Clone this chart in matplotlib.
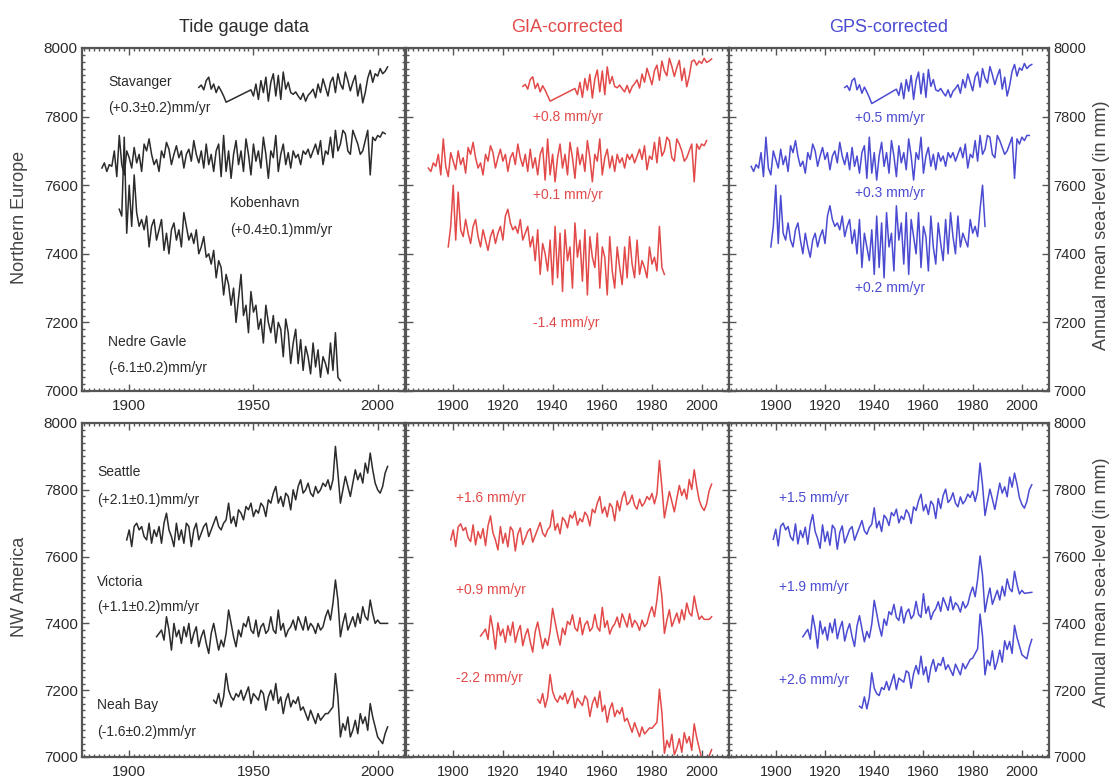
import numpy as np, matplotlib
matplotlib.use("Agg")
import matplotlib.pyplot as plt
from matplotlib.ticker import MultipleLocator

plt.rcParams["font.family"] = ["Liberation Sans", "DejaVu Sans"]

RED = "#e24a4a"
BLUE = "#4b4bd2"
INK = "#2b2b2b"

# ---------- Northern Europe : tide gauge ---------------------------------- #
sta_raw_a = [7885, 7892, 7878, 7905, 7915, 7880, 7895, 7870, 7888, 7875, 7860, 7842]
sta_raw_b = [7878, 7860, 7895, 7850, 7905, 7870, 7915, 7845, 7900, 7925,
             7860, 7920, 7850, 7930, 7880, 7900, 7870, 7865, 7872, 7860,
             7850, 7868, 7845, 7862, 7870, 7880, 7855, 7895, 7870, 7910,
             7885, 7860, 7900, 7915, 7870, 7925, 7895, 7880, 7930, 7905,
             7875, 7900, 7920, 7860, 7895, 7840, 7870, 7912, 7935, 7900,
             7925, 7918, 7940, 7925, 7932, 7945]
kob_raw = [7650, 7665, 7640, 7660, 7655, 7700, 7625, 7745, 7660, 7630, 7700, 7680,
           7650, 7710, 7665, 7690, 7640, 7720, 7700, 7735, 7690, 7660, 7675, 7640, 7700, 7680, 7725,
           7705, 7660, 7690, 7715, 7680, 7700, 7650, 7690, 7705, 7670, 7730, 7690, 7665, 7700, 7650,
           7720, 7660, 7690, 7640, 7700, 7720, 7625, 7745, 7640, 7700, 7620, 7690, 7730, 7660, 7700,
           7640, 7735, 7690, 7630, 7720, 7670, 7700, 7650, 7740, 7690, 7620, 7700, 7680, 7745, 7640,
           7690, 7720, 7660, 7695, 7650, 7700, 7680, 7690, 7660, 7700, 7690, 7705, 7680, 7700, 7720,
           7690, 7730, 7660, 7700, 7690, 7740, 7680, 7760, 7700, 7720, 7760, 7750, 7700, 7690, 7760,
           7740, 7720, 7690, 7700, 7730, 7760, 7630, 7740, 7730, 7745, 7740, 7755, 7750]
ned_raw = [7530, 7510, 7740, 7460, 7600, 7480, 7630, 7520, 7480, 7500,
           7470, 7510, 7420, 7480, 7500, 7440, 7470, 7500, 7410, 7460,
           7400, 7470, 7490, 7440, 7470, 7420, 7520, 7480, 7440, 7460,
           7430, 7470, 7400, 7420, 7450, 7390, 7400, 7370, 7410, 7330,
           7380, 7360, 7280, 7340, 7310, 7250, 7300, 7200, 7270, 7340,
           7220, 7250, 7170, 7290, 7230, 7250, 7180, 7210, 7140, 7250,
           7200, 7170, 7220, 7140, 7200, 7180, 7100, 7210, 7170, 7080,
           7140, 7180, 7080, 7150, 7060, 7130, 7100, 7050, 7140, 7070,
           7120, 7040, 7100, 7080, 7050, 7140, 7060, 7170, 7040, 7030]

# ---------- Northern Europe : GIA-corrected ------------------------------- #
sta_gia_a = [7888, 7894, 7880, 7908, 7916, 7882, 7897, 7872, 7890, 7877, 7861, 7845]
sta_gia_b = [7882, 7864, 7900, 7856, 7911, 7877, 7923, 7854, 7910, 7936,
             7872, 7933, 7864, 7945, 7896, 7917, 7888, 7884, 7892, 7881,
             7872, 7891, 7869, 7887, 7896, 7907, 7883, 7924, 7900, 7941,
             7917, 7893, 7934, 7950, 7906, 7962, 7933, 7919, 7970, 7946,
             7917, 7943, 7964, 7905, 7941, 7887, 7918, 7961, 7965, 7950,
             7962, 7955, 7970, 7958, 7962, 7968]
kob_gia = [7650, 7640, 7665, 7655, 7690, 7630, 7735, 7655, 7625, 7695,
           7670, 7645, 7700, 7660, 7680, 7635, 7710, 7690, 7725, 7680,
           7650, 7665, 7630, 7690, 7670, 7715, 7695, 7650, 7680, 7705,
           7670, 7690, 7640, 7680, 7695, 7660, 7720, 7680, 7655, 7690,
           7640, 7705, 7650, 7680, 7630, 7690, 7710, 7615, 7735, 7630,
           7690, 7610, 7680, 7720, 7650, 7690, 7630, 7725, 7680, 7620,
           7710, 7660, 7690, 7640, 7730, 7680, 7610, 7690, 7670, 7735,
           7630, 7680, 7705, 7650, 7685, 7640, 7690, 7665, 7680, 7650,
           7690, 7675, 7690, 7665, 7685, 7705, 7675, 7715, 7645, 7685,
           7675, 7725, 7665, 7740, 7685, 7700, 7740, 7730, 7680, 7670,
           7735, 7720, 7700, 7670, 7680, 7700, 7720, 7610, 7720, 7705, 7720, 7715, 7730]
ned_gia = [7420, 7480, 7600, 7440, 7580, 7470, 7450, 7500, 7460, 7430,
           7480, 7500, 7450, 7420, 7470, 7440, 7410, 7450, 7470, 7430,
           7460, 7480, 7440, 7510, 7530, 7490, 7470, 7480, 7460, 7500,
           7440, 7460, 7480, 7420, 7450, 7380, 7470, 7340, 7430, 7400,
           7350, 7440, 7310, 7480, 7330, 7460, 7290, 7470, 7380, 7420,
           7300, 7490, 7390, 7440, 7320, 7470, 7280, 7450, 7390, 7360,
           7460, 7300, 7420, 7390, 7280, 7450, 7350, 7300, 7420, 7360,
           7310, 7420, 7330, 7450, 7370, 7330, 7440, 7340, 7380, 7360,
           7330, 7420, 7370, 7390, 7350, 7480, 7360, 7340]

# ---------- Northern Europe : GPS-corrected ------------------------------- #
sta_gps_a = [7885, 7890, 7876, 7905, 7912, 7878, 7893, 7868, 7886, 7872, 7856, 7838]
sta_gps_b = [7880, 7862, 7898, 7852, 7908, 7874, 7920, 7850, 7905, 7930,
             7866, 7926, 7856, 7937, 7888, 7908, 7878, 7874, 7882, 7870,
             7860, 7878, 7856, 7874, 7882, 7893, 7868, 7908, 7884, 7924,
             7900, 7875, 7916, 7930, 7886, 7940, 7912, 7898, 7946, 7922,
             7893, 7918, 7938, 7880, 7915, 7860, 7890, 7932, 7952, 7918,
             7942, 7935, 7955, 7940, 7948, 7952]
kob_gps = [7655, 7640, 7660, 7650, 7695, 7625, 7740, 7650, 7630, 7700,
           7675, 7650, 7705, 7660, 7685, 7640, 7715, 7695, 7730, 7685,
           7655, 7670, 7635, 7695, 7675, 7720, 7700, 7655, 7685, 7710,
           7675, 7695, 7645, 7685, 7700, 7665, 7725, 7685, 7660, 7695,
           7645, 7710, 7655, 7685, 7635, 7695, 7715, 7620, 7740, 7635,
           7695, 7615, 7685, 7725, 7655, 7695, 7635, 7730, 7685, 7625,
           7715, 7665, 7695, 7645, 7735, 7685, 7615, 7695, 7675, 7740,
           7635, 7685, 7710, 7655, 7690, 7645, 7695, 7670, 7685, 7655,
           7695, 7680, 7695, 7670, 7690, 7710, 7680, 7720, 7650, 7690,
           7680, 7730, 7670, 7745, 7690, 7705, 7745, 7740, 7690, 7680,
           7745, 7730, 7710, 7690, 7700, 7720, 7740, 7620, 7735, 7720, 7740, 7730, 7745, 7745]
ned_gps = [7420, 7480, 7600, 7430, 7570, 7460, 7440, 7490, 7440, 7420,
           7470, 7490, 7440, 7400, 7460, 7420, 7390, 7440, 7460, 7420,
           7450, 7470, 7430, 7510, 7540, 7500, 7480, 7490, 7470, 7510,
           7450, 7480, 7500, 7430, 7470, 7400, 7500, 7360, 7460, 7420,
           7380, 7470, 7340, 7510, 7360, 7490, 7330, 7520, 7420, 7460,
           7350, 7540, 7440, 7490, 7370, 7520, 7340, 7500, 7450, 7400,
           7520, 7360, 7480, 7450, 7350, 7510, 7420, 7370, 7490, 7430,
           7380, 7500, 7400, 7520, 7450, 7400, 7510, 7420, 7460, 7440,
           7420, 7500, 7460, 7480, 7450, 7530, 7600, 7480]

# ---------- NW America : tide gauge --------------------------------------- #
sea_raw = [7650, 7680, 7630, 7690, 7700, 7680, 7690, 7660, 7650, 7700,
           7640, 7680, 7660, 7690, 7640, 7700, 7730, 7680, 7660, 7630,
           7700, 7650, 7680, 7640, 7700, 7690, 7630, 7680, 7700, 7650,
           7670, 7690, 7700, 7660, 7680, 7700, 7720, 7690, 7680, 7700,
           7710, 7760, 7700, 7720, 7690, 7740, 7730, 7710, 7750, 7740,
           7760, 7720, 7740, 7730, 7760, 7750, 7720, 7770, 7760, 7790,
           7810, 7760, 7780, 7750, 7790, 7780, 7740, 7800, 7770, 7810,
           7830, 7790, 7800, 7820, 7790, 7780, 7810, 7790, 7800, 7820,
           7810, 7830, 7800, 7830, 7930, 7850, 7760, 7800, 7840, 7810,
           7780, 7820, 7860, 7830, 7850, 7820, 7880, 7850, 7910, 7860,
           7820, 7800, 7790, 7810, 7850, 7870]
vic_raw = [7360, 7370, 7380, 7350, 7420, 7380, 7320, 7400, 7360, 7380,
           7340, 7390, 7360, 7400, 7340, 7370, 7390, 7330, 7360, 7380,
           7340, 7310, 7370, 7400, 7360, 7320, 7350, 7330, 7370, 7440,
           7400, 7360, 7330, 7380, 7360, 7400, 7390, 7420, 7380, 7370,
           7410, 7360, 7390, 7400, 7370, 7380, 7420, 7380, 7370, 7440,
           7380, 7400, 7360, 7380, 7390, 7410, 7380, 7420, 7400, 7380,
           7420, 7380, 7400, 7390, 7370, 7400, 7380, 7390, 7420, 7440,
           7410, 7460, 7530, 7470, 7360, 7400, 7430, 7380, 7400, 7420,
           7390, 7430, 7400, 7450, 7420, 7410, 7470, 7430, 7400, 7410,
           7400, 7400, 7400, 7400]
nea_raw = [7170, 7160, 7190, 7150, 7180, 7250, 7200, 7180, 7170, 7190,
           7180, 7200, 7170, 7190, 7210, 7160, 7190, 7180, 7170, 7200,
           7190, 7140, 7180, 7200, 7170, 7220, 7160, 7180, 7130, 7170,
           7190, 7150, 7170, 7160, 7180, 7140, 7150, 7130, 7110, 7140,
           7120, 7100, 7130, 7110, 7120, 7130, 7130, 7140, 7150, 7250,
           7180, 7060, 7100, 7080, 7120, 7060, 7080, 7110, 7070, 7130,
           7100, 7120, 7080, 7160, 7120, 7090, 7060, 7050, 7040, 7070, 7090]

# ---------- NW America : GIA-corrected ------------------------------------ #
sea_gia = [7650, 7680, 7630, 7689, 7698, 7678, 7687, 7656, 7645, 7695,
           7635, 7675, 7654, 7684, 7633, 7692, 7722, 7671, 7650, 7620,
           7690, 7640, 7670, 7629, 7689, 7678, 7617, 7667, 7686, 7636,
           7655, 7675, 7684, 7643, 7663, 7682, 7702, 7671, 7660, 7680,
           7690, 7739, 7679, 7699, 7668, 7717, 7707, 7686, 7725, 7715,
           7735, 7694, 7714, 7704, 7733, 7722, 7692, 7742, 7731, 7760,
           7780, 7730, 7749, 7719, 7759, 7748, 7707, 7767, 7737, 7776,
           7795, 7755, 7764, 7784, 7753, 7742, 7772, 7751, 7761, 7780,
           7770, 7789, 7758, 7788, 7888, 7807, 7716, 7756, 7795, 7765,
           7734, 7774, 7813, 7783, 7802, 7772, 7831, 7801, 7860, 7810,
           7769, 7749, 7738, 7758, 7797, 7817]
vic_gia = [7362, 7372, 7383, 7352, 7423, 7382, 7323, 7402, 7363, 7383,
           7343, 7393, 7364, 7404, 7343, 7374, 7394, 7333, 7364, 7384,
           7345, 7314, 7375, 7404, 7365, 7325, 7355, 7334, 7375, 7445,
           7405, 7366, 7335, 7386, 7366, 7406, 7396, 7426, 7386, 7377,
           7417, 7366, 7397, 7407, 7377, 7387, 7427, 7388, 7377, 7448,
           7388, 7408, 7368, 7388, 7398, 7419, 7388, 7429, 7409, 7389,
           7429, 7389, 7409, 7399, 7379, 7410, 7390, 7400, 7430, 7450,
           7420, 7470, 7540, 7480, 7370, 7410, 7441, 7391, 7411, 7431,
           7401, 7441, 7411, 7461, 7432, 7422, 7482, 7442, 7412, 7422,
           7412, 7412, 7412, 7420]
nea_gia = [7172, 7161, 7190, 7149, 7178, 7247, 7196, 7175, 7164, 7183,
           7172, 7191, 7160, 7179, 7198, 7147, 7176, 7165, 7154, 7183,
           7172, 7121, 7160, 7179, 7148, 7197, 7136, 7155, 7104, 7143,
           7162, 7121, 7140, 7129, 7148, 7107, 7116, 7095, 7074, 7103,
           7082, 7061, 7090, 7069, 7078, 7087, 7086, 7095, 7104, 7203,
           7132, 7011, 7050, 7029, 7068, 7007, 7026, 7055, 7014, 7073,
           7042, 7061, 7020, 7099, 7058, 7027, 6996, 6985, 6974, 7003, 7022]

# ---------- NW America : GPS-corrected ------------------------------------ #
sea_gps = [7652, 7682, 7632, 7691, 7700, 7680, 7690, 7659, 7648, 7698,
           7638, 7678, 7657, 7688, 7637, 7696, 7726, 7675, 7654, 7625,
           7695, 7645, 7675, 7634, 7694, 7683, 7622, 7672, 7692, 7641,
           7661, 7681, 7690, 7649, 7669, 7688, 7708, 7677, 7667, 7687,
           7697, 7746, 7686, 7706, 7675, 7724, 7714, 7693, 7732, 7722,
           7742, 7701, 7721, 7711, 7740, 7729, 7699, 7749, 7738, 7767,
           7787, 7737, 7756, 7726, 7766, 7755, 7714, 7774, 7744, 7783,
           7802, 7762, 7771, 7791, 7760, 7749, 7779, 7758, 7768, 7787,
           7777, 7796, 7765, 7795, 7880, 7814, 7723, 7763, 7802, 7772,
           7741, 7781, 7820, 7790, 7809, 7779, 7838, 7808, 7850, 7817,
           7776, 7756, 7745, 7765, 7800, 7815]
vic_gps = [7360, 7371, 7382, 7353, 7424, 7385, 7326, 7407, 7368, 7389,
           7350, 7401, 7372, 7413, 7354, 7385, 7406, 7347, 7378, 7399,
           7360, 7331, 7392, 7423, 7384, 7345, 7376, 7357, 7398, 7469,
           7430, 7391, 7362, 7413, 7394, 7435, 7426, 7457, 7418, 7409,
           7450, 7401, 7432, 7443, 7414, 7425, 7466, 7427, 7418, 7489,
           7430, 7451, 7412, 7433, 7444, 7465, 7436, 7477, 7458, 7439,
           7480, 7441, 7462, 7453, 7434, 7465, 7446, 7457, 7488, 7509,
           7480, 7531, 7602, 7543, 7434, 7475, 7506, 7457, 7478, 7499,
           7470, 7511, 7482, 7533, 7504, 7495, 7556, 7517, 7488, 7499,
           7490, 7491, 7492, 7493]
nea_gps = [7152, 7146, 7180, 7144, 7178, 7252, 7206, 7190, 7184, 7208,
           7202, 7226, 7200, 7224, 7248, 7202, 7236, 7230, 7224, 7258,
           7252, 7206, 7250, 7274, 7248, 7302, 7246, 7270, 7224, 7268,
           7292, 7256, 7280, 7274, 7298, 7262, 7276, 7260, 7244, 7278,
           7262, 7246, 7280, 7264, 7278, 7292, 7296, 7310, 7324, 7428,
           7362, 7246, 7290, 7274, 7318, 7262, 7286, 7320, 7284, 7348,
           7322, 7346, 7310, 7394, 7358, 7332, 7306, 7300, 7294, 7328, 7352]

col_titles = ["Tide gauge data", "GIA-corrected", "GPS-corrected"]
col_colors = [INK, RED, BLUE]
row_titles = ["Northern Europe", "NW America"]


def yrs(start, vals):
    return np.arange(start, start + len(vals))


def sta(a, b):
    return np.r_[yrs(1928, a), yrs(1949, b)], a + b


# (years, values) per panel, then text (x, y, label) per panel
panels = [
    [sta(sta_raw_a, sta_raw_b), (yrs(1889, kob_raw), kob_raw), (yrs(1896, ned_raw), ned_raw)],
    [sta(sta_gia_a, sta_gia_b), (yrs(1890, kob_gia), kob_gia), (yrs(1898, ned_gia), ned_gia)],
    [sta(sta_gps_a, sta_gps_b), (yrs(1890, kob_gps), kob_gps), (yrs(1898, ned_gps), ned_gps)],
    [(yrs(1899, sea_raw), sea_raw), (yrs(1911, vic_raw), vic_raw), (yrs(1934, nea_raw), nea_raw)],
    [(yrs(1899, sea_gia), sea_gia), (yrs(1911, vic_gia), vic_gia), (yrs(1934, nea_gia), nea_gia)],
    [(yrs(1899, sea_gps), sea_gps), (yrs(1911, vic_gps), vic_gps), (yrs(1934, nea_gps), nea_gps)],
]
notes = [
    [(1891.5, 7901, "Stavanger"), (1891.5, 7825, "(+0.3±0.2)mm/yr"),
     (1940.5, 7548, "Kobenhavn"), (1940.5, 7469, "(+0.4±0.1)mm/yr"),
     (1891.5, 7143, "Nedre Gavle"), (1891.5, 7067, "(-6.1±0.2)mm/yr")],
    [(1932, 7799, "+0.8 mm/yr"), (1932, 7571, "+0.1 mm/yr"), (1932, 7198, "-1.4 mm/yr")],
    [(1932, 7796, "+0.5 mm/yr"), (1932, 7577, "+0.3 mm/yr"), (1932, 7300, "+0.2 mm/yr")],
    [(1887, 7853, "Seattle"), (1887, 7769, "(+2.1±0.1)mm/yr"),
     (1887, 7524, "Victoria"), (1887, 7449, "(+1.1±0.2)mm/yr"),
     (1887, 7156, "Neah Bay"), (1887, 7075, "(-1.6±0.2)mm/yr")],
    [(1901, 7775, "+1.6 mm/yr"), (1901, 7500, "+0.9 mm/yr"), (1901, 7237, "-2.2 mm/yr")],
    [(1901.5, 7775, "+1.5 mm/yr"), (1901.5, 7509, "+1.9 mm/yr"), (1901.5, 7231, "+2.6 mm/yr")],
]

W, H = 1118, 781
fig = plt.figure(figsize=(W / 100, H / 100), dpi=100)

lefts = [82, 406, 729]
widths = [323, 323, 320]
rows = [(48, 391), (423, 757)]

for r, (top, bot) in enumerate(rows):
    for c in range(3):
        ax = fig.add_axes([lefts[c] / W, 1 - bot / H, widths[c] / W, (bot - top) / H])
        k = r * 3 + c
        for x, y in panels[k]:
            ax.plot(x, y, color=col_colors[c], lw=1.1)
        for x, y, s in notes[k]:
            ax.text(x, y, s, color=col_colors[c], fontsize=10, va="center", ha="left")
        ax.set_xlim(1881, 2011)
        ax.set_ylim(7000, 8000)
        ax.xaxis.set_major_locator(MultipleLocator(50 if c == 0 else 20))
        ax.xaxis.set_minor_locator(MultipleLocator(2))
        ax.yaxis.set_major_locator(MultipleLocator(200))
        ax.yaxis.set_minor_locator(MultipleLocator(20))
        ax.tick_params(which="both", direction="in", top=True, right=True,
                       colors="#555555", labelcolor=INK, width=1)
        ax.tick_params(which="major", length=5, labelsize=11 if c == 0 else 10.5, pad=6)
        ax.tick_params(which="minor", length=2.5)
        ax.tick_params(axis="y", labelleft=(c == 0), labelright=(c == 2), pad=3)
        for sp in ax.spines.values():
            sp.set_color("#555555")
            sp.set_linewidth(1.6)

for c in range(3):
    fig.text((lefts[c] + widths[c] / 2) / W, 1 - 27 / H, col_titles[c],
             color=col_colors[c], fontsize=13, ha="center", va="center")

fig.text(20 / W, 1 - 217 / H, row_titles[0], rotation=90, fontsize=13,
         color="#444444", ha="center", va="center")
fig.text(20 / W, 1 - 587 / H, row_titles[1], rotation=90, fontsize=13,
         color="#444444", ha="center", va="center")
for yc in (225, 582):
    fig.text(1102 / W, 1 - yc / H, "Annual mean sea-level (in mm)", rotation=90,
             fontsize=13, color="#444444", ha="center", va="center")

fig.savefig("out.png", dpi=100)
